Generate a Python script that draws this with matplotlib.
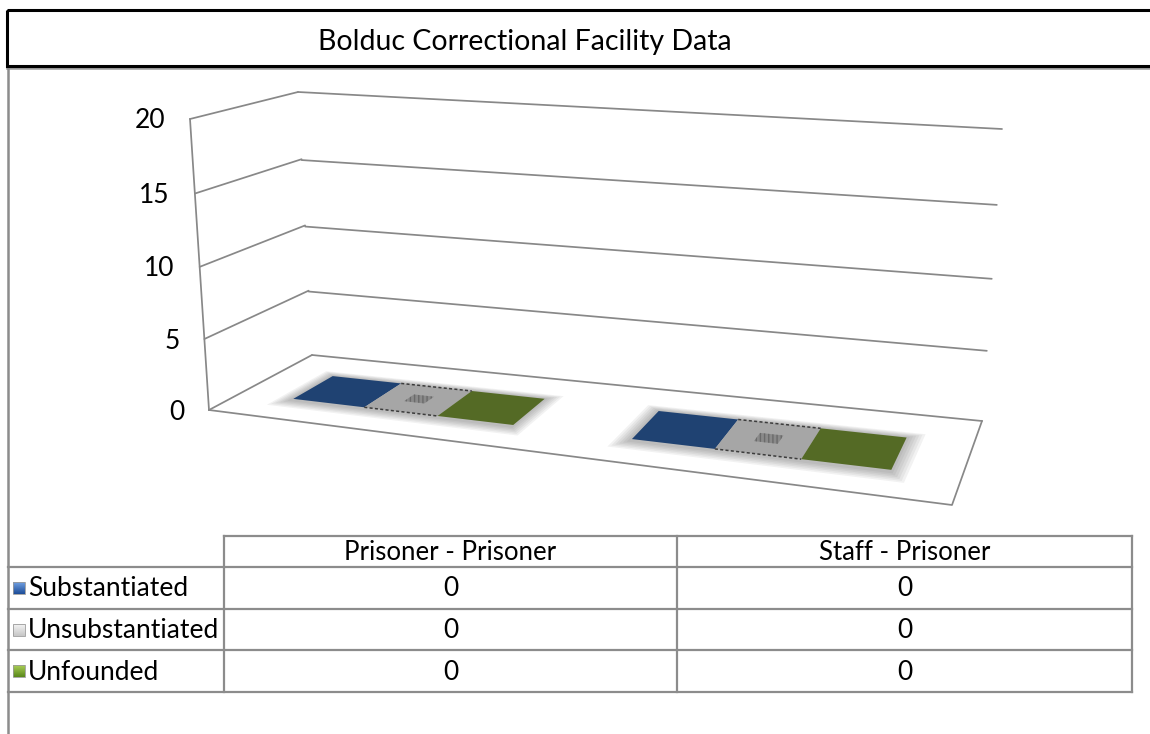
import numpy as np
import matplotlib
matplotlib.use("Agg")
import matplotlib.pyplot as plt
from matplotlib.patches import Polygon, Rectangle

# ---------------- data ----------------
title = "Bolduc Correctional Facility Data"
categories = ["Prisoner - Prisoner", "Staff - Prisoner"]
series_names = ["Substantiated", "Unsubstantiated", "Unfounded"]
substantiated = [0, 0]
unsubstantiated = [0, 0]
unfounded = [0, 0]
y_ticks = [0, 5, 10, 15, 20]

series_values = [substantiated, unsubstantiated, unfounded]
bar_colors = ["#1f4272", "#a6a6a6", "#546a25"]
icon_top = ["#6f9ee0", "#f2f2f2", "#a8cc55"]
icon_bot = ["#1f4f9a", "#c8c8c8", "#5c8a1c"]

plt.rcParams['font.family'] = ['Lato', 'DejaVu Sans']

W, H = 1150, 734
fig = plt.figure(figsize=(W / 100, H / 100), dpi=100)
ax = fig.add_axes([0, 0, 1, 1])
ax.set_xlim(0, W)
ax.set_ylim(H, 0)
ax.axis('off')

# ---------------- perspective frame (plot-area geometry) ----------------
def make_h(src, dst):
    A, b = [], []
    for (x, y), (X, Y) in zip(src, dst):
        A.append([x, y, 1, 0, 0, 0, -X * x, -X * y]); b.append(X)
        A.append([0, 0, 0, x, y, 1, -Y * x, -Y * y]); b.append(Y)
    h = np.linalg.solve(np.array(A, float), np.array(b, float))
    return np.append(h, 1).reshape(3, 3)

def apply(Hm, pts):
    pts = np.atleast_2d(np.asarray(pts, float))
    p = np.c_[pts, np.ones(len(pts))] @ Hm.T
    return p[:, :2] / p[:, 2:]

unit = [(0, 0), (1, 0), (1, 1), (0, 1)]
FL, FR, BR, BL = (209, 410), (952, 505), (982, 421), (312, 355)
TFL, TBL, TBR = (190, 119), (298, 92), (1002, 129)
H_floor = make_h(unit, [FL, FR, BR, BL])          # (u, v)
H_back = make_h(unit, [BL, BR, TBR, TBL])         # (u, t)
H_left = make_h(unit, [FL, BL, TBL, TFL])         # (v, t)
corners = np.array([FL, FR, BR, BL], float)

ymax = max(y_ticks)
persp = 0.6   # share of full perspective on the floor

def floor_pt(u, v):
    hp = apply(H_floor, [(u, v)])[0]
    bl = ((1 - u) * (1 - v) * corners[0] + u * (1 - v) * corners[1]
          + u * v * corners[2] + (1 - u) * v * corners[3])
    return persp * hp + (1 - persp) * bl

def proj(u, v, h):
    base = floor_pt(u, v)
    off = apply(H_left, [(v, h / ymax)])[0] - apply(H_left, [(v, 0)])[0]
    return base + off

grid_c = "#888888"
glw = 1.25
for t in y_ticks:
    tt = t / ymax
    p = apply(H_left, [(0, tt), (1, tt)])
    q = apply(H_back, [(0, tt), (1, tt)])
    ax.plot(p[:, 0], p[:, 1], color=grid_c, lw=glw, solid_capstyle='round')
    ax.plot(q[:, 0], q[:, 1], color=grid_c, lw=glw, solid_capstyle='round')
    ax.text(p[0, 0] - 25, p[0, 1] + 2, str(t), ha='right', va='center',
            fontsize=19, color='black')
# front-left vertical axis edge
ax_line = apply(H_left, [(0, 0), (0, 1)])
ax.plot(ax_line[:, 0], ax_line[:, 1], color=grid_c, lw=glw)
# floor front and right edges
fe = apply(H_floor, [(0, 0), (1, 0), (1, 1)])
ax.plot(fe[:, 0], fe[:, 1], color=grid_c, lw=glw)

# ---------------- bars (3-D columns) ----------------
n_cat = len(categories)
n_ser = len(series_values)
gap_width = 1.5
gap_depth = 1.5
cat_w = 1.0 / n_cat
bar_w = cat_w / (n_ser + gap_width)
v0 = (1 - 1 / (1 + gap_depth)) / 2
v1 = 1 - v0

# soft shadow under each cluster
for ci in range(n_cat):
    u_start = ci * cat_w + (cat_w - n_ser * bar_w) / 2
    u_end = u_start + n_ser * bar_w
    for k in range(6, 0, -1):
        du, dv = 0.0035 * k, 0.018 * k
        poly = [proj(u_start - du, v0 - dv - 0.02, 0), proj(u_end + du, v0 - dv - 0.02, 0),
                proj(u_end + du, v1 + dv * 0.6, 0), proj(u_start - du, v1 + dv * 0.6, 0)]
        ax.add_patch(Polygon(poly, closed=True, facecolor='#4a4a4a',
                             edgecolor='none', alpha=0.07, zorder=3))

for ci in range(n_cat):
    u_start = ci * cat_w + (cat_w - n_ser * bar_w) / 2
    for si, vals in enumerate(series_values):
        a = u_start + si * bar_w
        b = a + bar_w
        h = vals[ci]
        front = [proj(a, v0, 0), proj(b, v0, 0), proj(b, v0, h), proj(a, v0, h)]
        ax.add_patch(Polygon(front, closed=True, facecolor=bar_colors[si],
                             edgecolor='none', zorder=4))
        top = [proj(a, v0, h), proj(b, v0, h), proj(b, v1, h), proj(a, v1, h)]
        ax.add_patch(Polygon(top, closed=True, facecolor=bar_colors[si],
                             edgecolor='none', zorder=5))
        if si == 1:
            for vv in (v0, v1):
                e = np.array([proj(a, vv, h), proj(b, vv, h)])
                ax.plot(e[:, 0], e[:, 1], color='#3c3c3c', lw=1.1,
                        ls=(0, (2, 1.5)), zorder=6)
            m = 0.36
            mark = [proj(a + bar_w * m, 0.45, h), proj(b - bar_w * m, 0.45, h),
                    proj(b - bar_w * m, 0.56, h), proj(a + bar_w * m, 0.56, h)]
            ax.add_patch(Polygon(mark, closed=True, facecolor='#8a8a8a',
                                 edgecolor='#6a6a6a', hatch='||||', zorder=6,
                                 linewidth=0))

# ---------------- frame & title ----------------
ax.add_patch(Rectangle((7, 10), W + 10, 56, fill=False, edgecolor='black',
                       lw=2.2, zorder=10))
ax.plot([7, W + 5], [67.5, 67.5], color='#9a9a9a', lw=1.8, zorder=9)
ax.plot([7.5, 7.5], [67, H + 5], color='#8c8c8c', lw=1.8, zorder=9)
ax.text(525, 42, title, ha='center', va='center', fontsize=20.5, color='black')

# ---------------- data table ----------------
tc = '#8c8c8c'
tlw = 1.6
x_left, x_lab, x_mid, x_right = 8, 224, 677, 1132
y_top, y_hdr = 536, 567
row_h = 41.7
rows_y = [y_hdr + i * row_h for i in range(n_ser + 1)]

ax.plot([x_lab, x_right], [y_top, y_top], color=tc, lw=tlw)
for yy in rows_y:
    ax.plot([x_left, x_right], [yy, yy], color=tc, lw=tlw)
for xx in (x_lab, x_mid, x_right):
    ax.plot([xx, xx], [y_top, rows_y[-1]], color=tc, lw=tlw)

col_x = [x_lab, x_mid, x_right]
fs = 19
for ci, cat in enumerate(categories):
    cx = (col_x[ci] + col_x[ci + 1]) / 2
    ax.text(cx, (y_top + y_hdr) / 2 + 1, cat, ha='center', va='center',
            fontsize=fs - 0.5)
for si, name in enumerate(series_names):
    cy = (rows_y[si] + rows_y[si + 1]) / 2
    grad = np.linspace(0, 1, 12)[:, None]
    c1 = np.array(matplotlib.colors.to_rgb(icon_top[si]))
    c2 = np.array(matplotlib.colors.to_rgb(icon_bot[si]))
    img = (c1[None, None, :] * (1 - grad[..., None]) + c2[None, None, :] * grad[..., None])
    img = np.repeat(img, 12, axis=1)
    ax.imshow(img, extent=(13, 25, cy + 6, cy - 6), zorder=8, interpolation='bilinear')
    ax.add_patch(Rectangle((13, cy - 6), 12, 12, fill=False,
                           edgecolor='#9a9a9a', lw=0.6, zorder=9))
    ax.text(28, cy + 1, name, ha='left', va='center', fontsize=fs)
    for ci in range(n_cat):
        cx = (col_x[ci] + col_x[ci + 1]) / 2
        ax.text(cx, cy + 1, str(series_values[si][ci]), ha='center',
                va='center', fontsize=fs)

ax.set_xlim(0, W)
ax.set_ylim(H, 0)
fig.savefig("out.png", dpi=100)
